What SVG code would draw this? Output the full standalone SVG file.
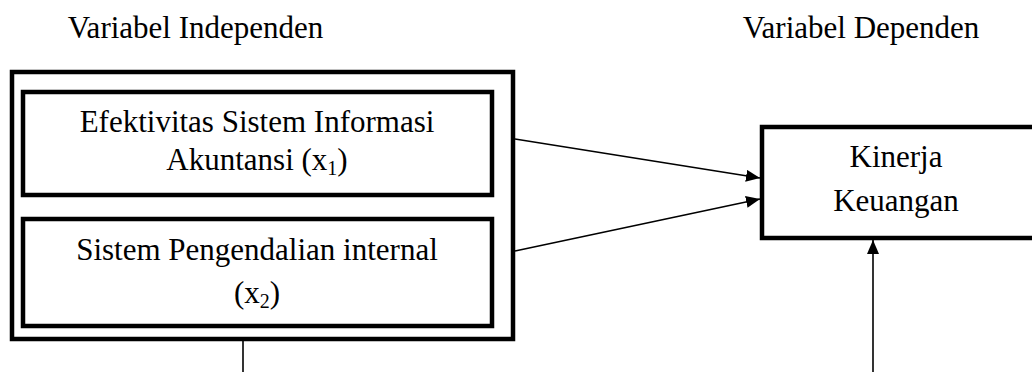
<svg xmlns="http://www.w3.org/2000/svg" width="1032" height="372" viewBox="0 0 1032 372">
  <style>
    .t { font-family: 'Liberation Serif', serif; font-size: 31px; fill: #000; }
    .box { fill: none; stroke: #000; stroke-width: 4.5; }
    .conn { fill: none; stroke: #000; stroke-width: 1.6; }
    .sub { font-size: 20px; }
  </style>
  <defs>
    <marker id="arrow" viewBox="0 0 14 12" refX="14" refY="6" markerWidth="14" markerHeight="12" markerUnits="userSpaceOnUse" orient="auto">
      <path d="M0,0 L14,6 L0,12 Z" fill="#000"/>
    </marker>
  </defs>
  <rect width="1032" height="372" fill="#fff"/>
  <g id="headings">
    <text class="t" x="195.5" y="38" text-anchor="middle">Variabel Independen</text>
    <text class="t" x="861" y="38" text-anchor="middle">Variabel Dependen</text>
  </g>
  <g id="independen">
    <rect class="box" x="12" y="72" width="501" height="267"/>
  </g>
  <g id="x1">
    <rect class="box" x="23" y="92" width="469" height="103"/>
    <text class="t" x="257" y="132" text-anchor="middle">Efektivitas Sistem Informasi</text>
    <text class="t" x="257" y="170" text-anchor="middle">Akuntansi (x<tspan class="sub" dy="5">1</tspan><tspan dy="-5">)</tspan></text>
  </g>
  <g id="x2">
    <rect class="box" x="23" y="219" width="469" height="107"/>
    <text class="t" x="257" y="260" text-anchor="middle">Sistem Pengendalian internal</text>
    <text class="t" x="257" y="303" text-anchor="middle">(x<tspan class="sub" dy="5">2</tspan><tspan dy="-5">)</tspan></text>
  </g>
  <g id="kinerja">
    <rect class="box" x="762" y="127" width="290" height="111"/>
    <text class="t" x="896" y="167" text-anchor="middle">Kinerja</text>
    <text class="t" x="896" y="211" text-anchor="middle">Keuangan</text>
  </g>
  <g id="connectors">
    <line class="conn" x1="515" y1="139" x2="760" y2="178" marker-end="url(#arrow)"/>
    <line class="conn" x1="515" y1="251" x2="760" y2="199" marker-end="url(#arrow)"/>
    <line class="conn" x1="243" y1="341" x2="243" y2="372"/>
    <line class="conn" x1="873" y1="372" x2="873" y2="240" marker-end="url(#arrow)"/>
  </g>
</svg>
